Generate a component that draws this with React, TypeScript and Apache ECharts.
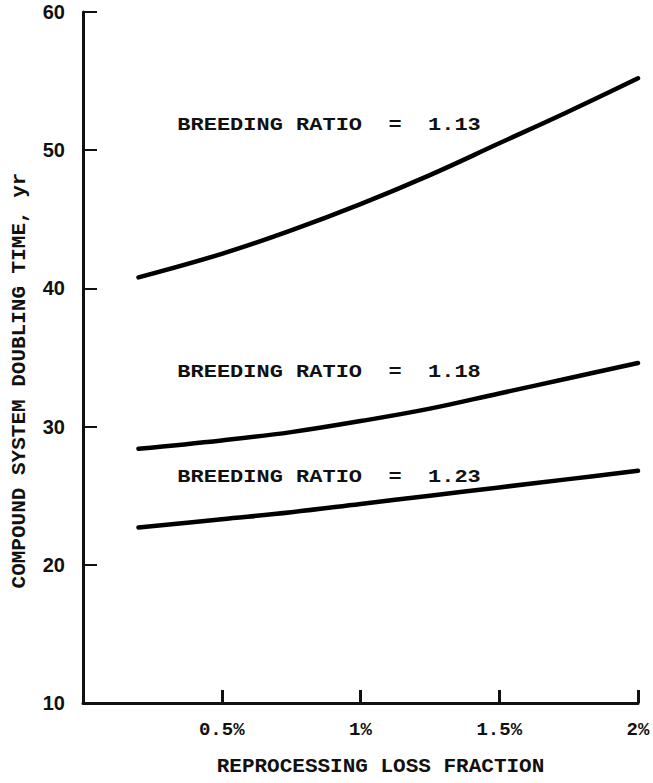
import React, { useEffect, useRef } from "react";
import * as echarts from "echarts";

const xValues = [0.2, 0.5, 0.75, 1.0, 1.25, 1.5, 1.75, 2.0];
const br113 = [40.8, 42.5, 44.2, 46.1, 48.2, 50.5, 52.8, 55.2];
const br118 = [28.4, 29.0, 29.6, 30.4, 31.3, 32.4, 33.5, 34.6];
const br123 = [22.7, 23.3, 23.8, 24.4, 25.0, 25.6, 26.2, 26.8];
const seriesNames = ["BREEDING RATIO  =  1.13", "BREEDING RATIO  =  1.18", "BREEDING RATIO  =  1.23"];
const labelX = 0.34;
const labelY = [51.8, 33.95, 26.35];
const xTickLabels: Record<string, string> = { "0.5": "0.5%", "1": "1%", "1.5": "1.5%", "2": "2%" };
const yTickValues = [10, 20, 30, 40, 50, 60];

const MONO = "'Liberation Mono', 'DejaVu Sans Mono', monospace";

export default function App() {
  const ref = useRef<HTMLDivElement>(null);
  useEffect(() => {
    document.body.style.margin = "0";
    const chart = echarts.init(ref.current!, null, { renderer: "svg" });
    const all = [br113, br118, br123];
    chart.setOption({
      animation: false,
      backgroundColor: "#ffffff",
      grid: { left: 83, right: 15, top: 12, bottom: 80, outerBoundsMode: "none", containLabel: false },
      xAxis: {
        type: "value",
        min: 0,
        max: 2,
        interval: 0.5,
        name: "REPROCESSING LOSS FRACTION",
        nameLocation: "middle",
        nameGap: 53,
        nameTextStyle: { fontFamily: MONO, fontWeight: "bold", fontSize: 21, lineHeight: 21, color: "#111", padding: [0, 0, 0, 40] },
        axisLine: { show: true, lineStyle: { color: "#111", width: 3 } },
        axisTick: { show: true, inside: true, length: 13, lineStyle: { color: "#111", width: 3 } },
        axisLabel: {
          fontFamily: MONO,
          fontWeight: "bold",
          fontSize: 19,
          color: "#111",
          margin: 17,
          formatter: (v: number) => xTickLabels[String(v)] ?? "",
        },
        splitLine: { show: false },
      },
      yAxis: {
        type: "value",
        min: yTickValues[0],
        max: yTickValues[yTickValues.length - 1],
        interval: 10,
        name: "COMPOUND SYSTEM DOUBLING TIME, yr",
        nameLocation: "middle",
        nameGap: 53,
        nameRotate: 90,
        nameTextStyle: { fontFamily: MONO, fontWeight: "bold", fontSize: 21, color: "#111", padding: [0, 46, 0, 0] },
        axisLine: { show: true, lineStyle: { color: "#111", width: 3 } },
        axisTick: { show: true, inside: true, length: 14, lineStyle: { color: "#111", width: 2 } },
        axisLabel: {
          fontFamily: "'Liberation Sans', Arial, sans-serif",
          fontWeight: "bold",
          fontSize: 20,
          color: "#111",
          margin: 18,
        },
        splitLine: { show: false },
      },
      series: all.map((vals, i) => ({
        name: seriesNames[i],
        type: "line",
        smooth: 0.4,
        symbol: "none",
        data: xValues.map((x, j) => [x, vals[j]]),
        lineStyle: { color: "#000", width: 4.5, cap: "round" },
      })),
    });
    const graphics = seriesNames.map((name, i) => {
      const p = chart.convertToPixel({ gridIndex: 0 }, [labelX, labelY[i]]) as number[];
      return {
        type: "text",
        x: p[0],
        y: p[1],
        scaleY: 0.8,
        style: {
          text: name,
          fontFamily: MONO,
          fontWeight: "bold",
          fontSize: 22,
          fill: "#111",
          textAlign: "left",
          textVerticalAlign: "middle",
        },
      };
    });
    chart.setOption({ graphic: graphics });
    return () => chart.dispose();
  }, []);
  return <div ref={ref} style={{ width: 653, height: 783 }} />;
}
